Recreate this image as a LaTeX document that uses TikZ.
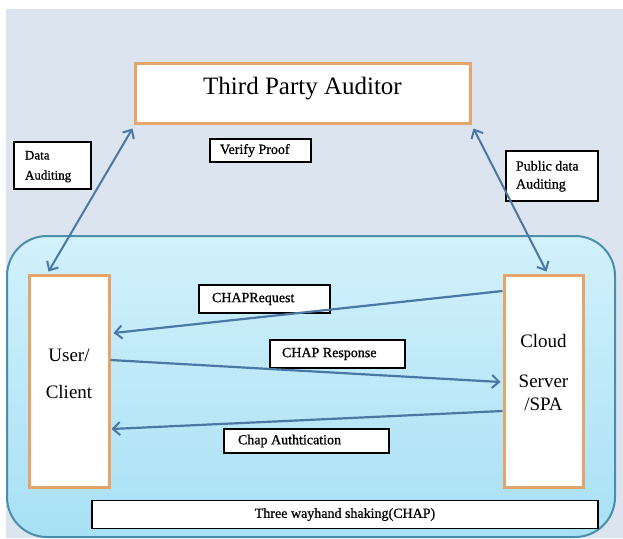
\documentclass[tikz,border=0pt]{standalone}
\usepackage{fontspec}
\setmainfont{Liberation Serif}
\newfontfamily\labfont[FakeBold=0.8]{Liberation Serif}
\usetikzlibrary{arrows.meta,calc}
\definecolor{bgblue}{HTML}{DCE4EF}
\definecolor{cloudtop}{HTML}{D2F1FB}
\definecolor{cloudbot}{HTML}{A8E0F5}
\definecolor{cloudline}{HTML}{4A8FAA}
\definecolor{orangeb}{HTML}{E4A46C}
\definecolor{arrowc}{HTML}{4A78A4}
\newcommand{\vtext}[2]{\raisebox{#1}[0pt][0pt]{#2}}
\tikzset{
  orangebox/.style={draw=orangeb, line width=3pt, fill=white, inner sep=0pt},
  labelbox/.style={draw=black, line width=1.3pt, fill=white, inner sep=0pt,
    font=\labfont\fontsize{14}{17}\selectfont},
  flow/.style={draw=arrowc, line width=2.2pt,
    -{Straight Barb[length=7pt,width=13pt,line width=2pt]}},
  biflow/.style={draw=arrowc, line width=2pt,
    {Straight Barb[length=7pt,width=13pt,line width=2pt]}-{Straight Barb[length=7pt,width=13pt,line width=2pt]}}
}
\begin{document}
\begin{tikzpicture}[x=1pt,y=-1pt]
\useasboundingbox (0,0) rectangle (623,538);
\fill[white] (0,0) rectangle (623,538);
\fill[bgblue] (6,9) rectangle (623,538);
\draw[cloudline, line width=2pt, top color=cloudtop, bottom color=cloudbot,
  rounded corners=40pt] (7,236) rectangle (615,537);

% main boxes
\node[orangebox, minimum width=335pt, minimum height=60pt] (tpa) at (302.5,93)
  {\vtext{-1pt}{\fontsize{25}{30}\selectfont Third Party Auditor}};
\node[orangebox, minimum width=80pt, minimum height=212pt] (user) at (69,381)
  {\vtext{-17pt}{\fontsize{19}{23}\selectfont\begin{tabular}[b]{@{}c@{}}User/\\[14pt]Client\end{tabular}}};
\node[orangebox, minimum width=79pt, minimum height=212pt] (cloud) at (543.5,381)
  {\vtext{-29pt}{\fontsize{19}{23}\selectfont\begin{tabular}[b]{@{}c@{}}Cloud\\[17pt]Server\\/SPA\end{tabular}}};

% label boxes
\node[labelbox, minimum width=77pt, minimum height=47pt] (dataaud) at (52.5,165.5)
  {\makebox[77pt][l]{\hspace{11pt}\fontsize{13}{20}\selectfont\begin{tabular}{@{}l@{}}Data\\Auditing\end{tabular}}};
\node[labelbox, minimum width=101pt, minimum height=23pt] (verify) at (260.5,150.5)
  {\makebox[101pt][l]{\hspace{10pt}Verify Proof}};
\node[labelbox, minimum width=92pt, minimum height=50pt] (pubaud) at (552,176)
  {\makebox[92pt][l]{\hspace{10pt}\fontsize{14}{18}\selectfont\begin{tabular}{@{}l@{}}Public data\\Auditing\end{tabular}}};
\node[labelbox, minimum width=131pt, minimum height=28pt] (req) at (264.5,299)
  {\makebox[131pt][l]{\hspace{13pt}CHAPRequest}};
\node[labelbox, minimum width=135pt, minimum height=28pt] (resp) at (337.5,354)
  {\makebox[135pt][l]{\hspace{12pt}CHAP Response}};
\node[labelbox, minimum width=165pt, minimum height=24pt] (auth) at (306.5,441)
  {\makebox[165pt][l]{\hspace{14pt}Chap Authtication}};
\node[labelbox, minimum width=506pt, minimum height=28pt] (three) at (345,514.5)
  {Three wayhand shaking(CHAP)};

% connectors
\draw[biflow] ($(tpa.south west)+(-1,4)$) -- ($(user.north west)+(21,-2)$);
\draw[biflow] ($(tpa.south east)+(2,4)$) -- ($(cloud.north west)+(44,-2)$);
\draw[flow] ($(cloud.west)+(0,-90)$) -- ($(user.east)+(3,-48)$);
\draw[flow] ($(user.east)+(0,-21)$) -- ($(cloud.west)+(-2,1)$);
\draw[flow] ($(cloud.west)+(0,30)$) -- ($(user.east)+(1,48)$);
\end{tikzpicture}
\end{document}
